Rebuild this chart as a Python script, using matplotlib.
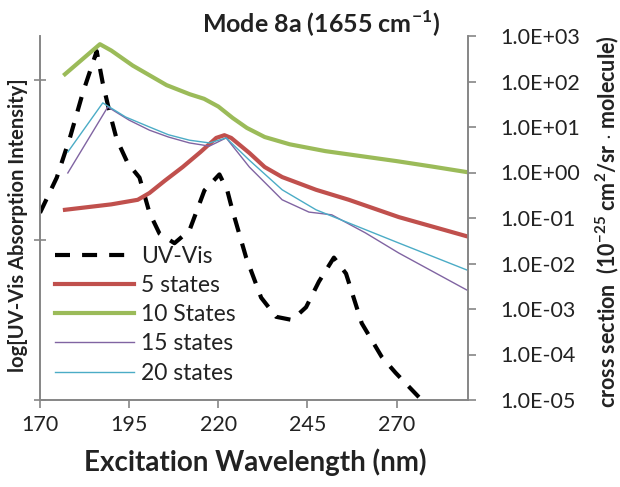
import matplotlib
matplotlib.use("Agg")
import matplotlib.pyplot as plt
from matplotlib.ticker import FixedLocator, NullLocator

plt.rcParams['font.family'] = ['Lato', 'DejaVu Sans']
plt.rcParams['mathtext.fontset'] = 'custom'
plt.rcParams['mathtext.rm'] = 'Lato'
plt.rcParams['mathtext.bf'] = 'Lato:bold'

# UV-Vis absorption (left axis, log intensity units)
uv_nm = [170, 174.7, 178.4, 182.0, 185.9, 187.6, 189.6, 191.5, 194.6, 197.9, 200.7,
         203.5, 207.7, 211.9, 216.1, 220.3, 222.5, 223.9, 227.8, 232.0, 236.2, 240.7,
         244.6, 248.2, 252.4, 255.8, 260.2, 265.8, 269.7, 277.0]
uv_val = [1.17, 1.39, 1.64, 1.92, 2.18, 1.98, 1.79, 1.63, 1.48, 1.39, 1.17,
          1.04, 0.98, 1.06, 1.31, 1.41, 1.31, 1.19, 0.89, 0.64, 0.52, 0.50,
          0.58, 0.74, 0.89, 0.79, 0.48, 0.27, 0.17, 0.0]

# cross sections, log10 values (right axis)
s5_nm = [177.0, 190.0, 197.4, 200.7, 205.0, 210.0, 215.0, 219.4, 221.7, 223.6, 228.7,
         233.0, 237.9, 247.4, 256.6, 270.6, 289.6]
s5_log = [-0.82, -0.70, -0.60, -0.45, -0.18, 0.12, 0.45, 0.76, 0.82, 0.76, 0.43,
          0.12, -0.10, -0.38, -0.60, -0.98, -1.40]

s10_nm = [177.0, 186.8, 190.0, 196.0, 205.5, 212.0, 216.0, 220.0, 224.0, 228.0, 233.0,
          240.0, 250.0, 260.0, 270.0, 280.0, 289.6]
s10_log = [2.16, 2.82, 2.68, 2.35, 1.92, 1.72, 1.62, 1.45, 1.20, 0.98, 0.78,
           0.62, 0.47, 0.36, 0.25, 0.13, 0.01]

s15_nm = [177.8, 189.0, 195.0, 200.7, 206.0, 211.9, 217.5, 222.2, 228.7, 237.9, 245.4,
          251.8, 261.3, 270.6, 289.6]
s15_log = [-0.01, 1.44, 1.15, 0.93, 0.78, 0.65, 0.58, 0.76, 0.12, -0.60, -0.87,
           -0.93, -1.33, -1.77, -2.58]

s20_nm = [177.8, 187.6, 194.0, 200.7, 206.0, 211.9, 217.5, 222.2, 228.7, 237.9, 247.4,
          256.6, 270.6, 289.6]
s20_log = [0.45, 1.53, 1.22, 1.00, 0.83, 0.71, 0.65, 0.76, 0.27, -0.38, -0.82,
           -1.11, -1.55, -2.14]

x_ticks = [170, 195, 220, 245, 270]
right_ticks = [1e-5, 1e-4, 1e-3, 1e-2, 1e-1, 1e0, 1e1, 1e2, 1e3]

grey = '#868686'
ink = '#222222'

fig = plt.figure(figsize=(6.2, 4.87), dpi=100)
ax = fig.add_axes([40 / 620, 1 - 400 / 487, 428 / 620, 364 / 487])
ax2 = ax.twinx()

ax.set_xlim(170, 290)
ax.set_ylim(0, 2.275)
ax2.set_yscale('log')
ax2.set_ylim(1e-5, 1e3)

h_uv, = ax.plot(uv_nm, uv_val, color='black', lw=3, ls=(0, (3.6, 2.9)), label='UV-Vis')
h5, = ax2.plot(s5_nm, [10 ** v for v in s5_log], color='#C0504D', lw=3, label='5 states')
h10, = ax2.plot(s10_nm, [10 ** v for v in s10_log], color='#9BBB59', lw=3, label='10 States')
h15, = ax2.plot(s15_nm, [10 ** v for v in s15_log], color='#8064A2', lw=1, label='15 states')
h20, = ax2.plot(s20_nm, [10 ** v for v in s20_log], color='#4BACC6', lw=1, label='20 states')

for a in (ax, ax2):
    a.spines['top'].set_visible(False)
    for s in ('left', 'right', 'bottom'):
        a.spines[s].set_color(grey)
        a.spines[s].set_linewidth(1.2)

ax.set_xticks(x_ticks)
ax.tick_params(axis='x', direction='out', length=6, width=1.2, color=grey,
               labelsize=15.5, pad=5, labelcolor=ink)
ax.set_yticks([0, 1, 2])
ax.set_yticklabels([])
ax.tick_params(axis='y', direction='inout', length=9, width=1.2, color=grey)

ax2.yaxis.set_major_locator(FixedLocator(right_ticks))
ax2.yaxis.set_minor_locator(NullLocator())
ax2.set_yticklabels(['%.1E' % t for t in right_ticks])
ax2.tick_params(axis='y', direction='out', length=6, width=1.2, color=grey,
                labelsize=15.5, pad=17, labelcolor=ink)

leg = ax.legend(handles=[h_uv, h5, h10, h15, h20], loc='lower left',
                bbox_to_anchor=(0.035, 0.045), frameon=False, fontsize=16.5,
                handlelength=3.45, handletextpad=0.3, labelspacing=0.36,
                borderaxespad=0, borderpad=0)
for t in leg.get_texts():
    t.set_color(ink)

fig.text(321 / 620, 1 - 24 / 487, 'Mode 8a (1655 cm$^{\\mathbf{-1}}$)', ha='center',
         va='center', fontsize=18, fontweight='bold', color=ink)
fig.text(255 / 620, 1 - 462 / 487, 'Excitation Wavelength (nm)', ha='center',
         va='center', fontsize=20, fontweight='bold', color=ink)
fig.text(18 / 620, 1 - 225 / 487, 'log[UV-Vis Absorption Intensity]', ha='center',
         va='center', rotation=90, fontsize=14.5, fontweight='bold', color=ink)
fig.text(607 / 620, 1 - 222 / 487,
         'cross section  (10$^{\\mathbf{-25}}$ cm$^{\\mathbf{2}}$/sr $\\cdot$ molecule)',
         ha='center', va='center', rotation=90, fontsize=15.5, fontweight='bold', color=ink)

fig.savefig('out.png', dpi=100)
